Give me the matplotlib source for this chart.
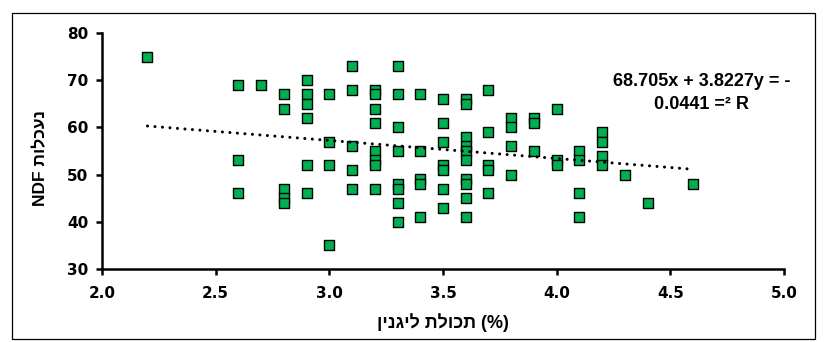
import matplotlib
matplotlib.use('Agg')
import matplotlib.pyplot as plt
from matplotlib.patches import Rectangle

# lignin content (%) and digestible NDF
lignin = [2.2,
          2.6, 2.6, 2.6,
          2.7,
          2.8, 2.8, 2.8, 2.8, 2.8,
          2.9, 2.9, 2.9, 2.9, 2.9, 2.9,
          3.0, 3.0, 3.0, 3.0,
          3.1, 3.1, 3.1, 3.1, 3.1,
          3.2, 3.2, 3.2, 3.2, 3.2, 3.2, 3.2, 3.2,
          3.3, 3.3, 3.3, 3.3, 3.3, 3.3, 3.3, 3.3,
          3.4, 3.4, 3.4, 3.4, 3.4,
          3.5, 3.5, 3.5, 3.5, 3.5, 3.5, 3.5,
          3.6, 3.6, 3.6, 3.6, 3.6, 3.6, 3.6, 3.6, 3.6, 3.6,
          3.7, 3.7, 3.7, 3.7, 3.7,
          3.8, 3.8, 3.8, 3.8,
          3.9, 3.9, 3.9,
          4.0, 4.0, 4.0,
          4.1, 4.1, 4.1, 4.1,
          4.2, 4.2, 4.2, 4.2,
          4.3, 4.4, 4.6]
ndf = [75,
       69, 53, 46,
       69,
       67, 64, 47, 45, 44,
       70, 67, 65, 62, 52, 46,
       67, 57, 52, 35,
       73, 68, 56, 51, 47,
       68, 67, 64, 61, 55, 53, 52, 47,
       73, 67, 60, 55, 48, 47, 44, 40,
       67, 55, 49, 48, 41,
       66, 61, 57, 52, 51, 47, 43,
       66, 65, 58, 56, 55, 53, 49, 48, 45, 41,
       68, 59, 52, 51, 46,
       62, 60, 56, 50,
       62, 61, 55,
       64, 53, 52,
       55, 53, 46, 41,
       59, 57, 54, 52,
       50, 44, 48]

slope = -3.8227
intercept = 68.705
r2 = 0.0441

x_ticks = [2.0, 2.5, 3.0, 3.5, 4.0, 4.5, 5.0]
y_ticks = [30, 40, 50, 60, 70, 80]

eq_text = '68.705x + 3.8227y = -\n0.0441 =\u00b2 R'
# matplotlib has no bidi: hebrew is given in visual order
x_title = 'תכולת ליגנין'[::-1] + ' (%)'
y_title = 'NDF ' + 'נעכלות'[::-1]

tick_font = ['Liberation Sans Narrow', 'DejaVu Sans']
title_font = ['Liberation Sans', 'DejaVu Sans']

W, H = 835, 342
fig = plt.figure(figsize=(W / 100, H / 100), dpi=100)
ax = fig.add_axes([102 / W, 1 - 269 / H, (784 - 102) / W, (269 - 33) / H])

ax.scatter(lignin, ndf, marker='s', s=52, c='#00B050', edgecolors='black',
           linewidths=1.0, zorder=3, clip_on=False)

x0, x1 = min(lignin), max(lignin)
ax.plot([x0, x1], [slope * x0 + intercept, slope * x1 + intercept],
        color='black', lw=2.2, linestyle=(0, (0.01, 2.45)),
        dash_capstyle='round', zorder=4)

ax.set_xlim(2.0, 5.0)
ax.set_ylim(30, 80)
ax.set_xticks(x_ticks)
ax.set_yticks(y_ticks)
ax.set_xticklabels(['{:.1f}'.format(v) for v in x_ticks])
ax.set_yticklabels([str(v) for v in y_ticks])
for lbl in ax.get_xticklabels() + ax.get_yticklabels():
    lbl.set_family(tick_font)
    lbl.set_fontweight('bold')
    lbl.set_fontsize(11)

for side in ['top', 'right']:
    ax.spines[side].set_visible(False)
for side in ['left', 'bottom']:
    ax.spines[side].set_linewidth(1.8)
ax.tick_params(direction='out', length=4, width=1.8, color='black', pad=8)
ax.tick_params(axis='y', pad=6)

ax.set_xlabel(x_title, family=title_font, fontweight='bold', fontsize=13, labelpad=9)

fig.text(41 / W, 1 - 158 / H, y_title, rotation=90, ha='center', va='center',
         family=title_font, fontweight='bold', fontsize=12.5)

fig.text(702 / W, 1 - 93 / H, eq_text, ha='center', va='center',
         family=title_font, fontweight='bold', fontsize=13, linespacing=1.5)

fig.patches.append(Rectangle((12 / W, 1 - 339 / H), (815 - 12) / W, (339 - 13) / H,
                             transform=fig.transFigure, fill=False,
                             edgecolor='black', lw=0.9))

fig.savefig('out.png', dpi=100)
